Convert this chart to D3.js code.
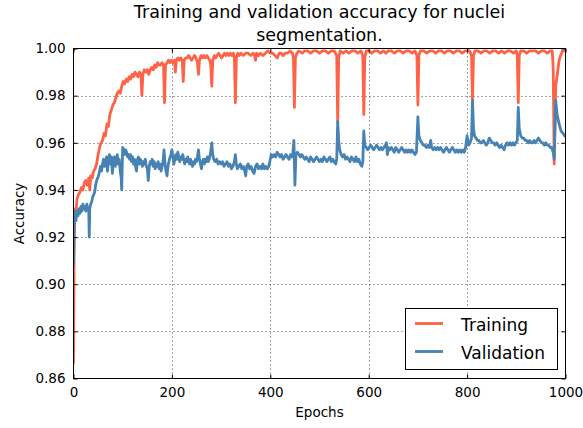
<!DOCTYPE html>
<html>
<head>
<meta charset="utf-8">
<script src="https://cdn.jsdelivr.net/npm/d3@7"></script>
<style>
  html, body { margin: 0; padding: 0; background: #fff; }
  svg { display: block; font-family: "DejaVu Sans", sans-serif; }
</style>
</head>
<body>
<svg id="chart" width="583" height="428"></svg>
<script>
// Per-epoch accuracy, recorded as [epoch, accuracy] pairs.
const training = [
  [0,0.866],[1,0.905],[2,0.925],[3,0.932],[5,0.930],[7,0.936],[10,0.938],[13,0.939],[16,0.941],[19,0.940],
  [22,0.943],[25,0.944],[28,0.942],[31,0.945],[33,0.940],[35,0.946],[38,0.945],[41,0.948],[44,0.949],[47,0.951],
  [50,0.955],[53,0.958],[56,0.960],[59,0.961],[62,0.964],[65,0.963],[68,0.968],[71,0.967],[74,0.972],[77,0.974],
  [80,0.976],[83,0.977],[86,0.979],[89,0.981],[92,0.982],[95,0.981],[98,0.984],[101,0.986],[104,0.985],[107,0.987],
  [110,0.986],[113,0.988],[116,0.987],[119,0.989],[122,0.988],[125,0.990],[128,0.989],[131,0.988],[134,0.990],[137,0.989],
  [139,0.980],[141,0.989],[144,0.991],[147,0.990],[150,0.991],[153,0.989],[156,0.991],[159,0.992],[162,0.991],[165,0.993],
  [168,0.992],[171,0.994],[174,0.993],[177,0.993],[180,0.994],[183,0.993],[185,0.977],[187,0.993],[190,0.994],[193,0.995],
  [196,0.994],[199,0.995],[202,0.994],[205,0.995],[207,0.990],[209,0.995],[212,0.996],[215,0.995],[218,0.996],[221,0.995],
  [223,0.986],[225,0.995],[228,0.996],[231,0.996],[234,0.997],[237,0.996],[240,0.995],[243,0.996],[246,0.997],[249,0.996],
  [252,0.994],[254,0.989],[256,0.995],[259,0.997],[262,0.996],[265,0.997],[268,0.996],[271,0.997],[274,0.996],[277,0.995],
  [279,0.993],[281,0.984],[283,0.995],[286,0.997],[289,0.996],[292,0.997],[295,0.998],[298,0.997],[301,0.996],[304,0.997],
  [307,0.998],[310,0.997],[313,0.998],[316,0.997],[319,0.998],[322,0.997],[325,0.998],[327,0.996],[329,0.977],[331,0.996],
  [334,0.998],[337,0.997],[340,0.998],[345,0.997],[350,0.998],[355,0.998],[360,0.997],[365,0.998],[368,0.997],[370,0.995],
  [372,0.998],[376,0.997],[380,0.998],[385,0.997],[390,0.998],[395,0.999],[400,0.998],[405,0.998],[410,0.997],[414,0.996],
  [418,0.998],[422,0.998],[426,0.997],[430,0.998],[435,0.998],[440,0.999],[445,0.998],[447,0.996],[449,0.975],[451,0.996],
  [454,0.998],[458,0.999],[465,0.998],[470,0.999],[476,0.999],[482,0.998],[488,0.999],[494,0.999],[500,0.998],[506,0.999],
  [512,0.999],[518,0.998],[524,0.999],[530,0.999],[535,0.997],[537,0.969],[539,0.996],[542,0.999],[548,0.998],[554,0.999],
  [560,0.998],[566,0.999],[572,0.999],[578,0.998],[584,0.999],[588,0.997],[590,0.972],[592,0.996],[595,0.999],[600,0.999],
  [606,0.998],[612,0.999],[618,0.999],[624,0.998],[630,0.999],[635,0.998],[640,0.999],[646,0.999],[652,0.998],[658,0.999],
  [664,0.999],[670,0.998],[676,0.999],[682,0.999],[688,0.998],[694,0.999],[698,0.997],[700,0.976],[702,0.997],[705,0.999],
  [712,0.999],[718,0.998],[724,0.999],[730,0.999],[736,0.998],[742,0.999],[748,0.999],[754,0.998],[760,0.999],[766,0.999],
  [772,0.998],[778,0.999],[784,0.999],[790,0.998],[796,0.999],[800,0.999],[805,0.999],[809,0.997],[811,0.978],[813,0.997],
  [816,0.999],[822,0.999],[828,0.998],[834,0.999],[840,0.999],[846,0.998],[852,0.999],[858,0.999],[864,0.998],[870,0.999],
  [876,0.998],[882,0.999],[888,0.999],[894,0.998],[900,0.999],[902,0.997],[904,0.977],[906,0.997],[909,0.999],[915,0.999],
  [921,0.998],[927,0.999],[933,0.999],[939,0.999],[945,0.998],[951,0.999],[957,0.999],[963,0.998],[969,0.999],[973,0.999],
  [975,0.992],[977,0.951],[980,0.984],[984,0.990],[987,0.995],[990,0.997],[994,0.999],[1000,0.999]
];

const validation = [
  [0,0.908],[1,0.922],[2,0.928],[3,0.931],[5,0.927],[7,0.931],[9,0.929],[11,0.932],[13,0.930],[15,0.933],
  [17,0.931],[19,0.934],[21,0.932],[23,0.933],[25,0.931],[27,0.934],[29,0.932],[31,0.931],[32,0.920],[33,0.932],
  [35,0.934],[37,0.935],[39,0.937],[41,0.938],[43,0.939],[45,0.942],[47,0.944],[49,0.945],[51,0.946],[53,0.948],
  [55,0.950],[57,0.948],[59,0.951],[61,0.953],[63,0.950],[65,0.952],[67,0.954],[69,0.948],[71,0.953],[73,0.955],
  [75,0.951],[77,0.954],[79,0.947],[81,0.952],[83,0.954],[85,0.950],[87,0.953],[89,0.955],[91,0.951],[93,0.953],
  [95,0.948],[97,0.945],[98,0.940],[99,0.950],[100,0.958],[102,0.957],[104,0.955],[106,0.957],[108,0.956],[110,0.954],
  [112,0.955],[114,0.953],[116,0.955],[118,0.952],[120,0.954],[122,0.951],[124,0.953],[126,0.950],[128,0.948],[130,0.953],
  [132,0.954],[134,0.951],[136,0.953],[138,0.952],[140,0.950],[142,0.952],[144,0.951],[146,0.953],[148,0.950],[150,0.949],
  [152,0.944],[154,0.950],[156,0.952],[158,0.951],[160,0.953],[162,0.950],[164,0.952],[166,0.949],[168,0.951],[170,0.950],
  [172,0.952],[174,0.949],[176,0.951],[178,0.948],[180,0.950],[182,0.952],[184,0.957],[186,0.951],[188,0.948],[190,0.946],
  [192,0.950],[195,0.953],[198,0.955],[200,0.957],[202,0.954],[204,0.951],[206,0.953],[208,0.955],[210,0.953],[212,0.956],
  [214,0.954],[216,0.952],[218,0.954],[220,0.953],[222,0.955],[224,0.953],[226,0.951],[228,0.953],[230,0.952],[232,0.954],
  [234,0.952],[236,0.951],[238,0.953],[240,0.951],[242,0.950],[244,0.952],[246,0.951],[248,0.953],[250,0.952],[252,0.954],
  [254,0.957],[256,0.953],[258,0.951],[260,0.949],[262,0.952],[264,0.953],[266,0.951],[268,0.953],[270,0.952],[272,0.954],
  [274,0.952],[276,0.953],[278,0.955],[280,0.958],[281,0.960],[283,0.955],[285,0.953],[288,0.952],[291,0.953],[294,0.951],
  [297,0.952],[300,0.951],[303,0.952],[306,0.950],[309,0.951],[312,0.952],[315,0.950],[318,0.951],[321,0.949],[324,0.950],
  [327,0.952],[329,0.955],[331,0.951],[333,0.949],[336,0.950],[339,0.951],[342,0.949],[345,0.950],[348,0.948],[350,0.946],
  [352,0.950],[355,0.951],[358,0.949],[361,0.950],[364,0.948],[367,0.947],[370,0.950],[373,0.951],[376,0.949],[379,0.950],
  [382,0.949],[385,0.951],[388,0.949],[391,0.950],[394,0.949],[397,0.950],[400,0.953],[402,0.955],[405,0.954],[408,0.955],
  [411,0.954],[414,0.956],[417,0.955],[420,0.954],[423,0.955],[426,0.953],[429,0.954],[432,0.955],[435,0.954],[438,0.953],
  [441,0.955],[444,0.954],[446,0.956],[448,0.961],[450,0.942],[452,0.955],[455,0.956],[458,0.955],[461,0.954],[464,0.955],
  [467,0.954],[470,0.953],[473,0.954],[476,0.953],[479,0.952],[482,0.954],[485,0.953],[488,0.952],[491,0.953],[494,0.954],
  [497,0.953],[500,0.952],[503,0.953],[506,0.952],[509,0.954],[512,0.953],[515,0.952],[518,0.953],[521,0.954],[524,0.952],
  [527,0.953],[530,0.952],[533,0.951],[535,0.953],[537,0.969],[539,0.961],[541,0.957],[544,0.955],[547,0.954],[550,0.955],
  [553,0.953],[556,0.954],[559,0.953],[562,0.952],[565,0.954],[568,0.953],[571,0.952],[574,0.954],[577,0.952],[580,0.953],
  [583,0.951],[586,0.950],[588,0.952],[590,0.965],[592,0.959],[595,0.958],[598,0.957],[601,0.958],[604,0.959],[607,0.958],
  [610,0.957],[613,0.958],[616,0.959],[619,0.958],[622,0.957],[625,0.958],[628,0.957],[631,0.958],[634,0.959],[636,0.960],
  [638,0.955],[640,0.958],[643,0.957],[646,0.958],[649,0.957],[652,0.956],[655,0.958],[658,0.957],[661,0.956],[664,0.957],
  [667,0.958],[670,0.957],[673,0.956],[676,0.957],[679,0.956],[682,0.957],[685,0.956],[688,0.957],[691,0.956],[694,0.955],
  [697,0.956],[700,0.971],[702,0.963],[705,0.961],[708,0.960],[711,0.959],[714,0.959],[717,0.958],[720,0.959],[723,0.958],
  [726,0.961],[728,0.958],[731,0.957],[734,0.958],[737,0.957],[740,0.958],[743,0.957],[746,0.958],[749,0.957],[752,0.956],
  [755,0.957],[758,0.958],[761,0.957],[764,0.956],[767,0.957],[770,0.958],[773,0.957],[776,0.956],[779,0.957],[782,0.956],
  [785,0.957],[788,0.956],[791,0.957],[794,0.956],[797,0.958],[800,0.963],[803,0.959],[806,0.960],[809,0.962],[811,0.978],
  [813,0.966],[815,0.963],[818,0.962],[821,0.961],[824,0.961],[827,0.960],[830,0.960],[833,0.961],[836,0.960],[839,0.959],
  [842,0.960],[845,0.962],[848,0.961],[851,0.960],[854,0.960],[857,0.959],[860,0.960],[863,0.959],[866,0.958],[869,0.959],
  [872,0.958],[875,0.957],[878,0.959],[881,0.960],[884,0.959],[887,0.960],[890,0.959],[893,0.960],[896,0.959],[899,0.960],
  [902,0.961],[904,0.975],[906,0.966],[909,0.963],[912,0.962],[915,0.962],[918,0.961],[921,0.961],[924,0.960],[927,0.961],
  [930,0.960],[933,0.960],[936,0.961],[939,0.960],[942,0.961],[945,0.962],[948,0.961],[951,0.960],[954,0.960],[957,0.959],
  [960,0.960],[963,0.959],[966,0.959],[969,0.958],[972,0.958],[975,0.956],[977,0.953],[980,0.978],[983,0.972],[987,0.968],
  [991,0.965],[995,0.964],[1000,0.9625]
];

const xTicks = [0, 200, 400, 600, 800, 1000];
const yTicks = [0.86, 0.88, 0.90, 0.92, 0.94, 0.96, 0.98, 1.00];
const seriesNames = ["Training", "Validation"];
const seriesColors = ["#ff6347", "#4682b4"];
const titleLines = ["Training and validation accuracy for nuclei", "segmentation."];

const svg = d3.select("#chart");
const plot = { left: 73.5, right: 565.5, top: 48.5, bottom: 378.5 };

const x = d3.scaleLinear().domain([0, 1000]).range([plot.left, plot.right]);
const y = d3.scaleLinear().domain([0.86, 1.00]).range([plot.bottom, plot.top]);

// Clip region for the data lines
svg.append("defs").append("clipPath").attr("id", "plotClip")
  .append("rect")
  .attr("x", plot.left).attr("y", plot.top)
  .attr("width", plot.right - plot.left).attr("height", plot.bottom - plot.top);

// Dotted grid
const grid = svg.append("g").attr("stroke", "#444").attr("stroke-width", 1)
  .attr("stroke-dasharray", "1,3");
grid.selectAll(".gx").data(xTicks.slice(1, -1)).join("line")
  .attr("x1", d => Math.round(x(d)) + 0.5).attr("x2", d => Math.round(x(d)) + 0.5)
  .attr("y1", plot.top).attr("y2", plot.bottom);
grid.selectAll(".gy").data(yTicks.slice(1, -1)).join("line")
  .attr("y1", d => Math.round(y(d)) + 0.5).attr("y2", d => Math.round(y(d)) + 0.5)
  .attr("x1", plot.left).attr("x2", plot.right);

// Data lines
const line = d3.line().x(d => x(d[0])).y(d => y(d[1]));
const lines = svg.append("g").attr("clip-path", "url(#plotClip)");
[training, validation].forEach((series, i) => {
  lines.append("path")
    .datum(series)
    .attr("fill", "none")
    .attr("stroke", seriesColors[i])
    .attr("stroke-width", 2.8)
    .attr("stroke-linejoin", "round")
    .attr("stroke-linecap", "butt")
    .attr("d", line);
});

// Axes: ticks point inward on all four sides
const tickLen = 4;
const xb = d3.axisBottom(x).tickValues(xTicks).tickSizeInner(-tickLen).tickSizeOuter(0).tickPadding(9).tickFormat(d3.format("d"));
const xt = d3.axisTop(x).tickValues(xTicks).tickSizeInner(-tickLen).tickSizeOuter(0).tickFormat("");
const yl = d3.axisLeft(y).tickValues(yTicks).tickSizeInner(-tickLen).tickSizeOuter(0).tickPadding(8).tickFormat(d3.format(".2f"));
const yr = d3.axisRight(y).tickValues(yTicks).tickSizeInner(-tickLen).tickSizeOuter(0).tickFormat("");

function styleAxis(g) {
  g.select(".domain").remove();
  g.selectAll(".tick line").attr("stroke", "#000");
  g.selectAll(".tick text").attr("fill", "#000").attr("font-size", 13.5)
    .attr("font-family", "DejaVu Sans, sans-serif");
}
svg.append("g").attr("transform", `translate(0,${plot.bottom})`).call(xb).call(styleAxis);
svg.append("g").attr("transform", `translate(0,${plot.top})`).call(xt).call(styleAxis);
svg.append("g").attr("transform", `translate(${plot.left},0)`).call(yl).call(styleAxis);
svg.append("g").attr("transform", `translate(${plot.right},0)`).call(yr).call(styleAxis);

// Frame
svg.append("rect")
  .attr("x", plot.left).attr("y", plot.top)
  .attr("width", plot.right - plot.left).attr("height", plot.bottom - plot.top)
  .attr("fill", "none").attr("stroke", "#000").attr("stroke-width", 1);

// Axis labels
svg.append("text").attr("x", (plot.left + plot.right) / 2).attr("y", 417)
  .attr("text-anchor", "middle").attr("font-size", 13.5).text("Epochs");
svg.append("text")
  .attr("transform", `translate(24,${(plot.top + plot.bottom) / 2}) rotate(-90)`)
  .attr("text-anchor", "middle").attr("font-size", 13.5).text("Accuracy");

// Title
const title = svg.append("text").attr("text-anchor", "middle").attr("font-size", 17.5)
  .attr("fill", "#000");
titleLines.forEach((t, i) => {
  title.append("tspan").attr("x", (plot.left + plot.right) / 2).attr("y", 18 + i * 23).text(t);
});

// Legend
const legend = svg.append("g");
legend.append("rect").attr("x", 405.5).attr("y", 308.5).attr("width", 152).attr("height", 61)
  .attr("fill", "#fff").attr("stroke", "#000").attr("stroke-width", 1);
seriesNames.forEach((name, i) => {
  const ly = 323.5 + i * 28;
  legend.append("line").attr("x1", 415).attr("x2", 443).attr("y1", ly).attr("y2", ly)
    .attr("stroke", seriesColors[i]).attr("stroke-width", 2.8);
  legend.append("text").attr("x", 461).attr("y", ly + 7).attr("font-size", 17)
    .attr("fill", "#000").text(name);
});
</script>
</body>
</html>
